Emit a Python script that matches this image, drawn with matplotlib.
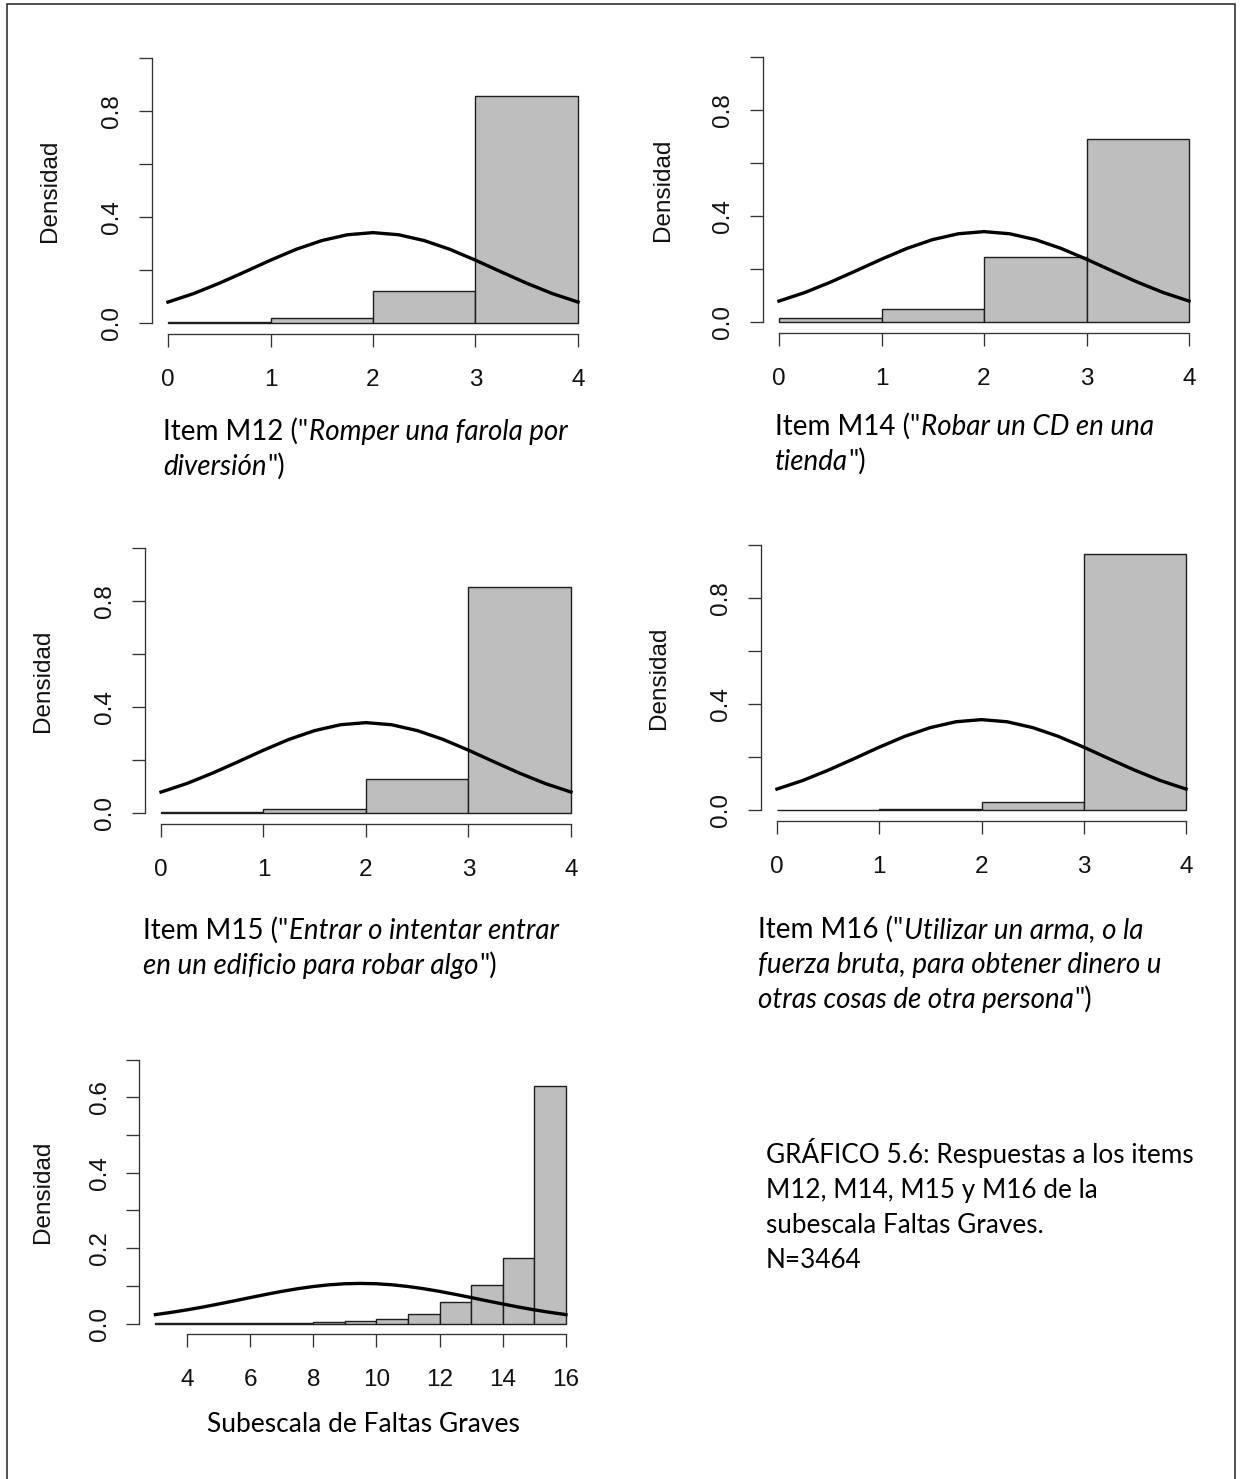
import matplotlib
matplotlib.use("Agg")
import matplotlib.pyplot as plt
from matplotlib.patches import Rectangle
import numpy as np

W_PX, H_PX = 1241, 1479
DPI = 100

AXIS_FONT = "Liberation Sans"
CAPTION_FONT = "Lato"
BAR_FILL = "#BEBEBE"
BAR_EDGE = "#1E1E1E"
AXIS_C = "#333333"
TEXT_C = "#111111"

# --- data ------------------------------------------------------------------
ITEM_BREAKS = [0, 1, 2, 3, 4]
M12_DENSITY = [0.005, 0.020, 0.120, 0.855]
M14_DENSITY = [0.015, 0.050, 0.245, 0.690]
M15_DENSITY = [0.002, 0.016, 0.128, 0.854]
M16_DENSITY = [0.001, 0.003, 0.030, 0.966]

# normal curve overlaid on the item histograms
ITEM_CURVE_X = [0, 0.25, 0.5, 0.75, 1, 1.25, 1.5, 1.75, 2,
                2.25, 2.5, 2.75, 3, 3.25, 3.5, 3.75, 4]
ITEM_CURVE_Y = [0.079, 0.111, 0.150, 0.193, 0.237, 0.278, 0.311, 0.333, 0.341,
                0.333, 0.311, 0.278, 0.237, 0.193, 0.150, 0.111, 0.079]

SUB_BREAKS = [3, 4, 5, 6, 7, 8, 9, 10, 11, 12, 13, 14, 15, 16]
SUB_DENSITY = [0.001, 0.001, 0.001, 0.002, 0.002, 0.003, 0.008,
               0.0125, 0.024, 0.058, 0.102, 0.174, 0.631]

SUB_CURVE_X = [3, 3.5, 4, 4.5, 5, 5.5, 6, 6.5, 7, 7.5, 8, 8.5, 9, 9.5,
               10, 10.5, 11, 11.5, 12, 12.5, 13, 13.5, 14, 14.5, 15, 15.5, 16]
SUB_CURVE_Y = [0.0237, 0.0296, 0.0363, 0.0437, 0.0518, 0.0602, 0.0688,
               0.0773, 0.0852, 0.0923, 0.0982, 0.1027, 0.1055, 0.1064,
               0.1055, 0.1027, 0.0982, 0.0923, 0.0852, 0.0773, 0.0688,
               0.0602, 0.0518, 0.0437, 0.0363, 0.0296, 0.0237]

ITEM_XTICKS = [0, 1, 2, 3, 4]
ITEM_YTICKS = [0.0, 0.2, 0.4, 0.6, 0.8, 1.0]
ITEM_YTICKLABELS = ["0.0", "", "0.4", "", "0.8", ""]
SUB_XTICKS = [4, 6, 8, 10, 12, 14, 16]
SUB_YTICKS = [0.0, 0.1, 0.2, 0.3, 0.4, 0.5, 0.6, 0.7]
SUB_YTICKLABELS = ["0.0", "", "0.2", "", "0.4", "", "0.6", ""]

# captions: list of lines, each a list of (text, italic)
CAP_M12 = [[("Item M12 (\"", False), ("Romper una farola por", True)],
           [("diversión", True), ("\")", False)]]
CAP_M14 = [[("Item M14 (\"", False), ("Robar un CD en una", True)],
           [("tienda", True), ("\")", False)]]
CAP_M15 = [[("Item M15 (\"", False), ("Entrar o intentar entrar", True)],
           [("en un edificio para robar algo", True), ("\")", False)]]
CAP_M16 = [[("Item M16 (\"", False), ("Utilizar un arma, o la", True)],
           [("fuerza bruta, para obtener dinero u", True)],
           [("otras cosas de otra persona", True), ("\")", False)]]
CAP_FIG = [[("GRÁFICO 5.6: Respuestas a los items", False)],
           [("M12, M14, M15 y M16 de la", False)],
           [("subescala Faltas Graves.", False)],
           [("N=3464", False)]]


def px_axes(fig, left, top, right, bottom):
    return fig.add_axes([left / W_PX, 1 - bottom / H_PX,
                         (right - left) / W_PX, (bottom - top) / H_PX])


def draw_hist(ax, breaks, dens, cx, cy, xticks, yticks, yticklabels,
              ylabel_off_px, width_px):
    widths = np.diff(breaks)
    ax.bar(breaks[:-1], dens, width=widths, align="edge", color=BAR_FILL,
           edgecolor=BAR_EDGE, linewidth=1.0, zorder=2)
    ax.plot(cx, cy, color="black", lw=2.4, zorder=3)

    xr = breaks[-1] - breaks[0]
    ax.set_xlim(breaks[0] - 0.04 * xr, breaks[-1] + 0.04 * xr)
    yr = yticks[-1] - yticks[0]
    ax.set_ylim(-0.04 * yr, yticks[-1] + 0.04 * yr)

    for s in ("top", "right"):
        ax.spines[s].set_visible(False)
    for s in ("left", "bottom"):
        ax.spines[s].set_color(AXIS_C)
        ax.spines[s].set_linewidth(0.95)
    ax.spines["bottom"].set_bounds(xticks[0], xticks[-1])
    ax.spines["left"].set_bounds(yticks[0], yticks[-1])

    ax.set_xticks(xticks, [str(v) for v in xticks])
    ax.set_yticks(yticks, yticklabels)
    ax.tick_params(direction="out", length=9.4, width=0.95, color=AXIS_C,
                   labelsize=17.5, labelcolor=TEXT_C)
    ax.tick_params(axis="x", pad=16)
    ax.tick_params(axis="y", pad=11, labelrotation=90)
    for lbl in ax.get_xticklabels() + ax.get_yticklabels():
        lbl.set_family(AXIS_FONT)
    plt.setp(ax.get_yticklabels(), va="center")

    ax.set_ylabel("Densidad", fontsize=17.5, family=AXIS_FONT, color=TEXT_C,
                  va="center")
    ax.yaxis.set_label_coords(-ylabel_off_px / width_px, 0.5)
    ax.patch.set_alpha(0)


def rich_text(fig, renderer, x_px, y_px, lines, size=20, spacing=35):
    for i, parts in enumerate(lines):
        x = x_px
        y = y_px + i * spacing
        for txt, italic in parts:
            t = fig.text(x / W_PX, 1 - y / H_PX, txt, fontsize=size,
                         family=CAPTION_FONT,
                         style="italic" if italic else "normal",
                         ha="left", va="baseline", color="black")
            x += t.get_window_extent(renderer).width + 0.5


fig = plt.figure(figsize=(W_PX / DPI, H_PX / DPI), dpi=DPI)
fig.patch.set_facecolor("white")
renderer = fig.canvas.get_renderer()

panels = [
    # data, pixel box (left, top, right, bottom), ylabel offset
    (M12_DENSITY, (151.6, 47.4, 594.4, 333.6), 102),
    (M14_DENSITY, (762.6, 46.4, 1205.4, 332.6), 100),
    (M15_DENSITY, (144.6, 537.4, 587.4, 823.6), 102),
    (M16_DENSITY, (760.6, 534.4, 1202.4, 820.6), 102),
]
for dens, box, off in panels:
    ax = px_axes(fig, *box)
    draw_hist(ax, ITEM_BREAKS, dens, ITEM_CURVE_X, ITEM_CURVE_Y,
              ITEM_XTICKS, ITEM_YTICKS, ITEM_YTICKLABELS, off, box[2] - box[0])

box5 = (139.0, 1049.0, 582.4, 1334.1)
ax5 = px_axes(fig, *box5)
draw_hist(ax5, SUB_BREAKS, SUB_DENSITY, SUB_CURVE_X, SUB_CURVE_Y,
          SUB_XTICKS, SUB_YTICKS, SUB_YTICKLABELS, 96, box5[2] - box5[0])

rich_text(fig, renderer, 163, 440, CAP_M12)
rich_text(fig, renderer, 775, 435, CAP_M14)
rich_text(fig, renderer, 143, 939, CAP_M15)
rich_text(fig, renderer, 758, 938, CAP_M16)
rich_text(fig, renderer, 766, 1163, CAP_FIG, size=18.8)

fig.text(363 / W_PX, 1 - 1432 / H_PX, "Subescala de Faltas Graves",
         fontsize=19, family=CAPTION_FONT, ha="center", va="baseline")

# page frame (bottom edge falls outside the crop)
fig.add_artist(Rectangle((7 / W_PX, -0.02), (1235 - 7) / W_PX,
                         1.02 - 4 / H_PX, transform=fig.transFigure,
                         fill=False, edgecolor="#333333", linewidth=1.2))

fig.savefig("out.png", dpi=DPI, facecolor="white")
